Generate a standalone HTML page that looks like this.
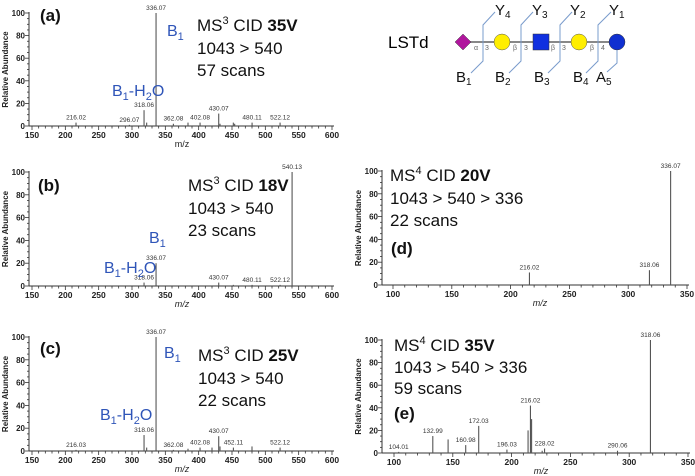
<!DOCTYPE html>
<html><head><meta charset="utf-8"><style>
html,body{margin:0;padding:0;background:#fff}
svg{display:block;font-family:"Liberation Sans",sans-serif}
</style></head><body>
<svg id="fig" width="695" height="476" viewBox="0 0 695 476">
<g id="glycan">
 <text x="388" y="48" font-size="17">LSTd</text>
 <line x1="463" y1="42" x2="617" y2="42" stroke="#888" stroke-width="2"/>
 <polygon points="463,34 471,42 463,50 455,42" fill="#b0169d" stroke="#444" stroke-width="0.5"/>
 <circle cx="502" cy="42" r="8" fill="#ffee00" stroke="#555" stroke-width="0.5"/>
 <rect x="533" y="34" width="16" height="16" fill="#1030e0" stroke="#333" stroke-width="0.5"/>
 <circle cx="579" cy="42" r="8" fill="#ffee00" stroke="#555" stroke-width="0.5"/>
 <circle cx="617" cy="42" r="8" fill="#1030d0" stroke="#333" stroke-width="0.5"/>
 <g font-size="7" fill="#666">
  <text x="474" y="50">α</text><text x="485" y="50">3</text>
  <text x="513" y="50">β</text><text x="524" y="50">3</text>
  <text x="551" y="50">β</text><text x="562" y="50">3</text>
  <text x="590" y="50">β</text><text x="601" y="50">4</text>
 </g>
 <g stroke="#7a9ccc" stroke-width="1" fill="none">
  <polyline points="495,12 483,25 483,61 471,73"/>
  <polyline points="533,12 521,25 521,61 509,73"/>
  <polyline points="572,12 560,25 560,61 548,73"/>
  <polyline points="611,12 598,25 598,61 586,73"/>
  <polyline points="617,50 617,63 607,72"/>
 </g>
 <g font-size="15" fill="#111">
  <text x="495" y="15">Y<tspan font-size="10" dy="3">4</tspan></text>
  <text x="532" y="15">Y<tspan font-size="10" dy="3">3</tspan></text>
  <text x="570" y="15">Y<tspan font-size="10" dy="3">2</tspan></text>
  <text x="609" y="15">Y<tspan font-size="10" dy="3">1</tspan></text>
  <text x="456" y="82">B<tspan font-size="10" dy="3">1</tspan></text>
  <text x="495" y="82">B<tspan font-size="10" dy="3">2</tspan></text>
  <text x="534" y="82">B<tspan font-size="10" dy="3">3</tspan></text>
  <text x="573" y="82">B<tspan font-size="10" dy="3">4</tspan></text>
  <text x="596" y="82">A<tspan font-size="10" dy="3">5</tspan></text>
 </g>
</g>
</svg>
<script>
// Panel data arrays
const aMz=[216.02,296.07,318.06,322,336.07,362.08,384,402.08,430.07,432,452,454,480.11,522.12];
const aInt=[3,1,14,3,100,2,3,3,11,2,3,2,3,3];
const aLab=["216.02","296.07","318.06","","336.07","362.08","","402.08","430.07","","","","480.11","522.12"];
const bMz=[318.06,336.07,430.07,452,480.11,522.12,540.13];
const bInt=[3,20,3,1,1,1,100];
const bLab=["318.06","336.07","430.07","","480.11","522.12","540.13"];
const cMz=[216.03,318.06,322,336.07,362.08,384,402.08,420,430.07,432,452.11,480,522.12];
const cInt=[1,14,3,100,1,2,3,3,13,4,3,4,3];
const cLab=["216.03","318.06","","336.07","362.08","","402.08","","430.07","","452.11","","522.12"];
const dMz=[216.02,318.06,336.07];
const dInt=[11,13,100];
const dLab=["216.02","318.06","336.07"];
const eMz=[104.01,132.99,146,160.98,172.03,196.03,214,216.02,217,226,228.02,290.06,318.06];
const eInt=[1,15,12,7,24,3,20,42,30,2,4,2,100];
const eLab=["104.01","132.99","","160.98","172.03","196.03","","216.02","","","228.02","290.06","318.06"];
const xTicksWide=[150,200,250,300,350,400,450,500,550,600];
const xTicksNarrow=[100,150,200,250,300,350];
const yTicks=[0,20,40,60,80,100];

const NS="http://www.w3.org/2000/svg";
const svg=document.getElementById('fig');
function mk(tag,attrs,parent){const e=document.createElementNS(NS,tag);for(const k in attrs)e.setAttribute(k,attrs[k]);(parent||svg).appendChild(e);return e;}

function panel(id,cfg,mz,inten,labs,ticks){
  const g=mk('g',{});
  
  
  const xs=v=>cfg.x0+(v-cfg.d0)/(cfg.d1-cfg.d0)*(cfg.x1-cfg.x0);
  const ys=v=>cfg.y0-(v/100)*(cfg.y0-cfg.y100);
  const ax=mk('line',{x1:cfg.axStart,y1:cfg.y0,x2:cfg.x1+2,y2:cfg.y0,stroke:'#333','stroke-width':1},g);
  
  const ay=mk('line',{x1:cfg.axStart,y1:cfg.y0,x2:cfg.axStart,y2:cfg.y100-1,stroke:'#333','stroke-width':1},g);
  
  for(let v=cfg.d0;v<=cfg.d1;v+=10){const X=xs(v);mk('line',{x1:X,y1:cfg.y0,x2:X,y2:cfg.y0+(v%50===0?4:2.5),stroke:'#333','stroke-width':0.8},g);}
  for(let v=0;v<=100;v+=5){const Y=ys(v);mk('line',{x1:cfg.axStart-(v%20===0?4:2),y1:Y,x2:cfg.axStart,y2:Y,stroke:'#333','stroke-width':0.8},g);}
  ticks.forEach(t=>{const tx=mk('text',{x:xs(t),y:cfg.y0+12,'font-size':8.5,'font-weight':'bold','text-anchor':'middle',fill:'#222'},g);tx.textContent=t;
    });
  yTicks.forEach(t=>{const ty=mk('text',{x:cfg.axStart-4,y:ys(t)+3,'font-size':8,'font-weight':'bold','text-anchor':'end',fill:'#222'},g);ty.textContent=t;
    });
  const yt=mk('text',{x:0,y:0,'font-size':8,'font-weight':'bold','text-anchor':'middle',fill:'#222',transform:`translate(${cfg.axStart-21},${(cfg.y0+cfg.y100)/2}) rotate(-90)`},g);
  yt.textContent='Relative Abundance';
  
  const xt=mk('text',{x:(cfg.x0+cfg.x1)/2,y:cfg.y0+21,'font-size':9,'font-style':cfg.italic?'italic':'normal','text-anchor':'middle',fill:'#222'},g);
  xt.textContent='m/z';
  
  mz.forEach((m,i)=>{const X=xs(m),Y=ys(inten[i]);
    const p=mk('line',{x1:X,y1:cfg.y0,x2:X,y2:Y,stroke:'#555','stroke-width':1.1},g);
    
    if(labs[i]){const l=mk('text',{x:X,y:Y-3,'font-size':6.5,'text-anchor':'middle',fill:'#333'},g);l.textContent=labs[i];
      }
  });
  return g;
}
const wide={d0:150,d1:600,x0:32,x1:332,axStart:29,italic:true};
panel('a',Object.assign({},wide,{y0:126,y100:13,italic:false}),aMz,aInt,aLab,xTicksWide);
panel('b',Object.assign({},wide,{y0:286,y100:172}),bMz,bInt,bLab,xTicksWide);
panel('c',Object.assign({},wide,{y0:451,y100:337}),cMz,cInt,cLab,xTicksWide);
panel('d',{d0:100,d1:350,x0:393,x1:687,axStart:382,italic:true,y0:285,y100:171},dMz,dInt,dLab,xTicksNarrow);
panel('e',{d0:100,d1:350,x0:394,x1:688,axStart:382,italic:true,y0:453,y100:340},eMz,eInt,eLab,xTicksNarrow);

function txt(html,x,y,name,size,color){const t=mk('text',{x:x,y:y,'font-size':size||17,fill:color||'#111'});t.innerHTML=html;
  return t;}
const B='#2f55b8';
// annotations
txt('<tspan font-weight="bold">(a)</tspan>',40,21,'panel-label-a',17);
txt('MS<tspan font-size="11" dy="-7">3</tspan><tspan dy="7"> CID </tspan><tspan font-weight="bold">35V</tspan>',197,31,'title-a');
txt('1043 &gt; 540',197,54,'precursor-a');txt('57 scans',197,76,'scans-a');
txt('B<tspan font-size="11" dy="4">1</tspan>',167,36,'b1-label-a',16,B);
txt('B<tspan font-size="11" dy="4">1</tspan><tspan dy="-4">-H</tspan><tspan font-size="11" dy="4">2</tspan><tspan dy="-4">O</tspan>',112,96,'b1-h2o-label-a',16,B);

txt('<tspan font-weight="bold">(b)</tspan>',38,191,'panel-label-b',17);
txt('MS<tspan font-size="11" dy="-7">3</tspan><tspan dy="7"> CID </tspan><tspan font-weight="bold">18V</tspan>',188,191,'title-b');
txt('1043 &gt; 540',188,214,'precursor-b');txt('23 scans',188,236,'scans-b');
txt('B<tspan font-size="11" dy="4">1</tspan>',149,243,'b1-label-b',16,B);
txt('B<tspan font-size="11" dy="4">1</tspan><tspan dy="-4">-H</tspan><tspan font-size="11" dy="4">2</tspan><tspan dy="-4">O</tspan>',104,273,'b1-h2o-label-b',16,B);

txt('<tspan font-weight="bold">(c)</tspan>',40,354,'panel-label-c',17);
txt('MS<tspan font-size="11" dy="-7">3</tspan><tspan dy="7"> CID </tspan><tspan font-weight="bold">25V</tspan>',198,361,'title-c');
txt('1043 &gt; 540',198,384,'precursor-c');txt('22 scans',198,406,'scans-c');
txt('B<tspan font-size="11" dy="4">1</tspan>',164,358,'b1-label-c',16,B);
txt('B<tspan font-size="11" dy="4">1</tspan><tspan dy="-4">-H</tspan><tspan font-size="11" dy="4">2</tspan><tspan dy="-4">O</tspan>',100,420,'b1-h2o-label-c',16,B);

txt('MS<tspan font-size="11" dy="-7">4</tspan><tspan dy="7"> CID </tspan><tspan font-weight="bold">20V</tspan>',390,181,'title-d');
txt('1043 &gt; 540 &gt; 336',390,204,'precursor-d');txt('22 scans',390,226,'scans-d');
txt('<tspan font-weight="bold">(d)</tspan>',391,254,'panel-label-d',17);

txt('MS<tspan font-size="11" dy="-7">4</tspan><tspan dy="7"> CID </tspan><tspan font-weight="bold">35V</tspan>',394,351,'title-e');
txt('1043 &gt; 540 &gt; 336',394,373,'precursor-e');txt('59 scans',394,394,'scans-e');
txt('<tspan font-weight="bold">(e)</tspan>',394,419,'panel-label-e',17);
</script>
</body></html>
